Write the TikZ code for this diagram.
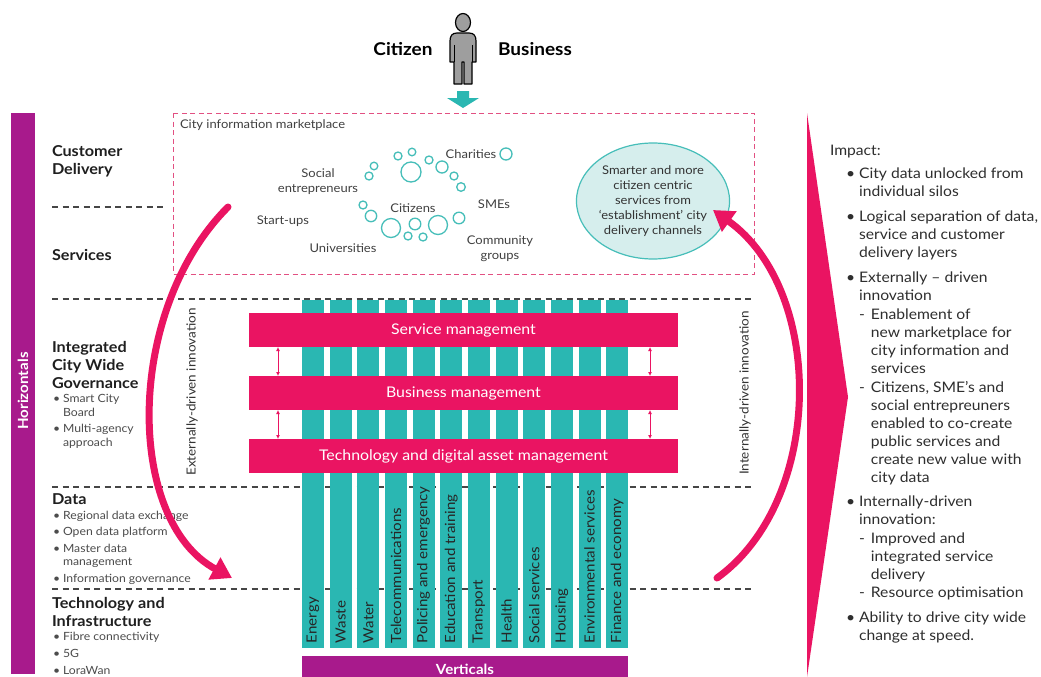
\documentclass[tikz,border=0pt]{standalone}
\usepackage{fontspec}
\setmainfont{Lato}[FakeStretch=1.08]
\usetikzlibrary{arrows.meta,shapes.geometric}
\definecolor{hpink}{RGB}{234,20,98}
\definecolor{hpurple}{RGB}{168,26,140}
\definecolor{hteal}{RGB}{42,183,178}
\definecolor{bteal}{RGB}{70,190,185}
\definecolor{efill}{RGB}{214,238,237}
\definecolor{dgrey}{RGB}{70,70,70}
\definecolor{txt}{RGB}{45,45,45}
\definecolor{mdash}{RGB}{226,80,130}
\begin{document}
\begin{tikzpicture}[x=1pt,y=-1pt,
  every node/.style={inner sep=0pt,outer sep=0pt,text=txt},
  headt/.style={font=\fontsize{15}{18}\selectfont\bfseries,align=left,anchor=west,text=black!88},
  smallt/.style={font=\fontsize{11.3}{13.5}\selectfont,anchor=west,text=black!70},
  bubt/.style={font=\fontsize{12}{15}\selectfont,align=center,text=black!75},
  bart/.style={fill=hpink,minimum width=429pt,minimum height=34pt,text=white,font=\fontsize{14.7}{18}\selectfont},
  colbox/.style={fill=hteal,minimum width=22pt,minimum height=348pt},
  colt/.style={font=\fontsize{14}{17}\selectfont,rotate=90,anchor=west,text=black!85},
  gdash/.style={draw=dgrey,line width=1.1pt,dash pattern=on 6pt off 4.5pt},
  pdash/.style={draw=mdash,line width=1pt,dash pattern=on 5pt off 3.5pt},
  bub/.style={draw=bteal,line width=1.3pt,fill=white},
  bigarrow/.style={draw=hpink,line width=7pt,-{Triangle[length=20pt,width=24pt]}},
  dblarrow/.style={draw=hpink,line width=0.9pt,{Latex[length=4pt,width=4pt]}-{Latex[length=4pt,width=4pt]}},
  innov/.style={font=\fontsize{12.5}{15}\selectfont,rotate=90,text=black!80},
  impt/.style={font=\fontsize{14.5}{18}\selectfont,anchor=north west,text=black!82},
]
\useasboundingbox (0,0) rectangle (1041,677);
\fill[white] (0,0) rectangle (1041,677);

% ---- top: person
\node[font=\fontsize{17.6}{20}\selectfont\bfseries,text=black] (citizen) at (403,49) {Citizen};
\node[font=\fontsize{17.6}{20}\selectfont\bfseries,text=black] (business) at (535,49) {Business};
\draw[fill=black!38,line width=1.2pt] (463,22.5) ellipse[x radius=7.5,y radius=9];
\draw[fill=black!38,line width=1.2pt,line join=round]
  (457,33) -- (469,33) .. controls (474,33) and (476,36) .. (476,41) -- (476,62) -- (472,62)
  -- (472,84) -- (464,84) -- (464,62) -- (462,62) -- (462,84) -- (454,84) -- (454,62)
  -- (450,62) -- (450,41) .. controls (450,36) and (452,33) .. (457,33) -- cycle;
\draw[line width=1pt] (454,45) -- (454,62) (472,45) -- (472,62);
\fill[hteal] (457,91) -- (469,91) -- (469,98) -- (479,98) -- (463,108) -- (447,98) -- (457,98) -- cycle;

% ---- dashed separators
\draw[gdash] (52,207) -- (165,207);
\foreach \yy in {299,487,589} \draw[gdash] (52,\yy) -- (755,\yy);

% ---- marketplace box
\draw[pdash] (173,113) rectangle (754,274);
\node[font=\fontsize{12}{15}\selectfont,anchor=west,text=black!75] (cim) at (180,125) {City information marketplace};

% bubbles
\foreach \cx/\cy/\r in {398/156/4,412/152/3.8,411/172/10,429/160/4,442/167/6,454/176/4,461/187/4.3,
  374/166/3.8,369/176/4,363/205/4,371/216/5.7,391/228/9.5,415/224/5.8,408/236/4,423/237/4,
  438/225/9.5,459/218/5.8,506/154/6}
  \draw[bub] (\cx,\cy) circle[radius=\r];
\node[bubt] (social) at (318,181.5) {Social\\entrepreneurs};
\node[bubt] (charities) at (471,154) {Charities};
\node[bubt] (citizens) at (413,208) {Citizens};
\node[bubt] (smes) at (494,204) {SMEs};
\node[bubt] (startups) at (283,221) {Start-ups};
\node[bubt] (univ) at (343,248) {Universities};
\node[bubt] (community) at (500,248.5) {Community\\groups};

\node[ellipse,draw=bteal,line width=1.2pt,fill=efill,minimum width=141pt,minimum height=116pt,
  align=center,font=\fontsize{12}{15}\selectfont,text=black!80] (smart) at (653,201)
  {Smarter and more\\citizen centric\\services from\\‘establishment’ city\\delivery channels};

% ---- left side
\fill[hpurple] (11,113) rectangle (35,674);
\node[rotate=90,font=\fontsize{14}{17}\selectfont\bfseries,text=white] (horiz) at (23,391) {Horizontals};

\node[headt] (cd) at (52,161) {Customer\\Delivery};
\node[headt] (sv) at (52,255) {Services};
\node[headt] (icwg) at (52,365) {Integrated\\City Wide\\Governance};
\node[headt] (data) at (52,499) {Data};
\node[headt] (ti) at (52,612) {Technology and\\Infrastructure};

\newcommand\sbul[3]{\node[smallt] (#1) at (53,#2) {\begin{tabular}{@{}l@{\hspace{3pt}}l@{}}\textbullet&#3\end{tabular}};}
\sbul{b1}{407}{Smart City\\&Board}
\sbul{b2}{437}{Multi-agency\\&approach}
\sbul{b3}{517}{Regional data exchange}
\sbul{b4}{533}{Open data platform}
\sbul{b5}{556.5}{Master data\\&management}
\sbul{b6}{580}{Information governance}
\sbul{b7}{638}{Fibre connectivity}
\sbul{b8}{655}{5G}
\sbul{b9}{672}{LoraWan}

% ---- verticals
\foreach \lab [count=\i from 0] in {Energy,Waste,Water,Telecommunications,Policing and emergency,
  Education and training,Transport,Health,Social services,Housing,Environmental services,Finance and economy}{
  \node[colbox] (c\i) at (313+27.65*\i,474) {};
  \node[colt] (l\i) at (313+27.65*\i,643) {\lab};
}
\node[fill=hpurple,minimum width=326pt,minimum height=26pt,text=white,
  font=\fontsize{14}{17}\selectfont\bfseries] (vert) at (465,669) {Verticals};

% ---- management bars
\node[bart] (svc) at (463.5,330) {Service management};
\node[bart] (bus) at (463.5,393) {Business management};
\node[bart] (tech) at (463.5,456) {Technology and digital asset management};
\coordinate (la) at (278,0);
\coordinate (ra) at (650,0);
\draw[dblarrow] (svc.south -| la) -- (bus.north -| la);
\draw[dblarrow] (bus.south -| la) -- (tech.north -| la);
\draw[dblarrow] (svc.south -| ra) -- (bus.north -| ra);
\draw[dblarrow] (bus.south -| ra) -- (tech.north -| ra);

\node[innov] (ext) at (192,392) {Externally-driven innovation};
\node[innov] (int) at (745,393) {Internally-driven innovation};

% ---- curved arrows
\coordinate (ls) at (228,207);
\coordinate (le) at (232,578);
\coordinate (rs) at (717,578);
\coordinate (re) at (713,210);
\draw[bigarrow,line cap=round] (ls) .. controls (125,310) and (125,520) .. (le);
\draw[bigarrow,line cap=round] (rs) .. controls (825,500) and (825,290) .. (re);

% ---- impact
\fill[hpink] (807,113) -- (848,397) -- (807,677) -- cycle;
\node[impt] (impact) at (830,143) {\begin{tabular}{@{\hspace{16pt}}l@{\hspace{4pt}}l@{\hspace{6pt}}l@{}}
\multicolumn{3}{@{}l@{}}{Impact:}\\[5pt]
\textbullet&\multicolumn{2}{@{}l@{}}{City data unlocked from}\\
&\multicolumn{2}{@{}l@{}}{individual silos}\\[7pt]
\textbullet&\multicolumn{2}{@{}l@{}}{Logical separation of data,}\\
&\multicolumn{2}{@{}l@{}}{service and customer}\\
&\multicolumn{2}{@{}l@{}}{delivery layers}\\[7pt]
\textbullet&\multicolumn{2}{@{}l@{}}{Externally – driven}\\
&\multicolumn{2}{@{}l@{}}{innovation}\\[1pt]
&-&Enablement of\\
&&new marketplace for\\
&&city information and\\
&&services\\[1pt]
&-&Citizens, SME’s and\\
&&social entrepreuners\\
&&enabled to co-create\\
&&public services and\\
&&create new value with\\
&&city data\\[6pt]
\textbullet&\multicolumn{2}{@{}l@{}}{Internally-driven}\\
&\multicolumn{2}{@{}l@{}}{innovation:}\\[1pt]
&-&Improved and\\
&&integrated service\\
&&delivery\\
&-&Resource optimisation\\[7pt]
\textbullet&\multicolumn{2}{@{}l@{}}{Ability to drive city wide}\\
&\multicolumn{2}{@{}l@{}}{change at speed.}
\end{tabular}};
\end{tikzpicture}
\end{document}
